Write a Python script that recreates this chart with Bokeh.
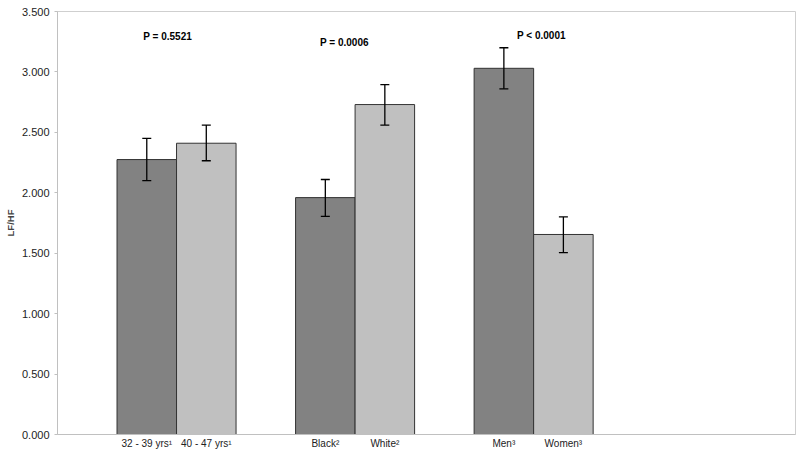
import numpy as np
from bokeh.plotting import figure
from bokeh.models import ColumnDataSource, Range1d, FixedTicker, Whisker, TeeHead, NumeralTickFormatter
from bokeh.core.properties import value
from bokeh.embed import file_html
from bokeh.resources import INLINE

# ---- data ----
categories = ["32 - 39 yrs\u00b9", "40 - 47 yrs\u00b9", "Black\u00b2", "White\u00b2", "Men\u00b3", "Women\u00b3"]
group_index = [0, 0, 1, 1, 2, 2]
within_group = [0, 1, 0, 1, 0, 1]
means = [2.275, 2.41, 1.96, 2.73, 3.03, 1.655]
upper = [2.45, 2.56, 2.11, 2.895, 3.20, 1.80]
lower = [2.10, 2.265, 1.805, 2.56, 2.86, 1.505]
p_labels = ["P = 0.5521", "P = 0.0006", "P < 0.0001"]
p_label_x = [1.85, 4.82, 8.13]
p_label_y = [3.295, 3.24, 3.30]
y_ticks = [0.0, 0.5, 1.0, 1.5, 2.0, 2.5, 3.0, 3.5]

DARK = "#828282"
LIGHT = "#c0c0c0"

x = 1.5 + 3 * np.array(group_index) + np.array(within_group)
colors = [DARK if w == 0 else LIGHT for w in within_group]

src = ColumnDataSource(dict(x=x, top=means, upper=upper, lower=lower, color=colors))

FONT = "Liberation Sans"

p = figure(width=798, height=458, output_backend="svg", toolbar_location=None,
           x_range=Range1d(0, 12.4), y_range=Range1d(0, 3.5),
           min_border_left=57, min_border_right=3, min_border_top=11, min_border_bottom=24)
p.background_fill_color = "white"
p.border_fill_color = "white"
p.outline_line_color = "#cfcfcf"
p.xgrid.visible = False
p.ygrid.visible = False

p.vbar(x="x", top="top", bottom=0, width=1.0, source=src,
       fill_color="color", line_color="#333333", line_width=1)

wh = Whisker(source=src, base="x", upper="upper", lower="lower",
             line_color="black", line_width=1.3, level="overlay",
             upper_head=TeeHead(size=9, line_color="black", line_width=1.3),
             lower_head=TeeHead(size=9, line_color="black", line_width=1.3))
p.add_layout(wh)

p.text(x=p_label_x, y=p_label_y, text=p_labels,
       text_font=value(FONT), text_font_style="bold", text_font_size="10px",
       text_align="center", text_baseline="middle", text_color="black")

# y axis
p.yaxis.ticker = FixedTicker(ticks=y_ticks)
p.yaxis.formatter = NumeralTickFormatter(format="0.000")
p.yaxis.axis_label = "LF/HF"
p.yaxis.axis_label_text_font = FONT
p.yaxis.axis_label_text_font_style = "bold"
p.yaxis.axis_label_text_font_size = "9.5px"
p.yaxis.axis_label_standoff = 3
p.yaxis.major_label_text_font = FONT
p.yaxis.major_label_text_font_size = "11px"
p.yaxis.major_label_text_color = "#222222"
p.yaxis.major_label_standoff = 5
p.yaxis.axis_line_color = "#c0c0c0"
p.yaxis.major_tick_line_color = "#c0c0c0"
p.yaxis.major_tick_out = 3
p.yaxis.major_tick_in = 0
p.yaxis.minor_tick_line_color = None

# x axis
p.xaxis.ticker = FixedTicker(ticks=list(x))
p.xaxis.major_label_overrides = {float(xx): c for xx, c in zip(x, categories)}
p.xaxis.major_label_text_font = FONT
p.xaxis.major_label_text_font_size = "10px"
p.xaxis.major_label_text_color = "#222222"
p.xaxis.major_label_standoff = 3
p.xaxis.axis_line_color = "#c0c0c0"
p.xaxis.major_tick_line_color = None
p.xaxis.major_tick_out = 0
p.xaxis.major_tick_in = 0
p.xaxis.minor_tick_line_color = None
p.xaxis.minor_tick_out = 0

open("out.html", "w").write(file_html(p, INLINE))
